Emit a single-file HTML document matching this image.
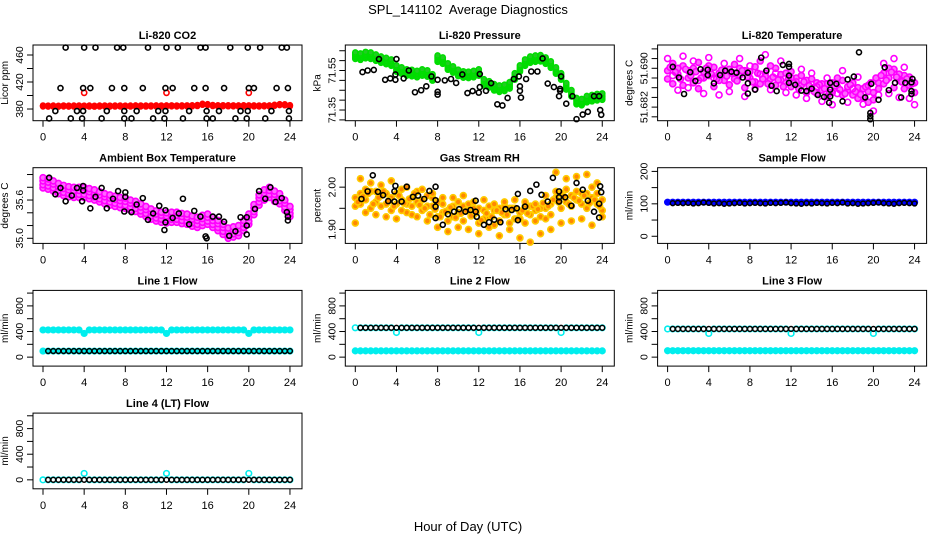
<!DOCTYPE html>
<html><head><meta charset="utf-8">
<style>
html,body{margin:0;padding:0;background:#fff;}
svg{display:block;font-family:"Liberation Sans",Arial,sans-serif;}
</style></head>
<body>
<svg id="chart" width="936" height="540" viewBox="0 0 936 540" xmlns="http://www.w3.org/2000/svg">
<rect x="0" y="0" width="936" height="540" fill="#fff"/>
<text x="468" y="14" text-anchor="middle" font-size="13">SPL_141102&#160; Average Diagnostics</text>
<text x="468" y="531" text-anchor="middle" font-size="13">Hour of Day (UTC)</text>
</svg>
<script>
// ---- shared time axis (half-hour steps) ----
const HH = [0,0.5,1,1.5,2,2.5,3,3.5,4,4.5,5,5.5,6,6.5,7,7.5,8,8.5,9,9.5,10,10.5,11,11.5,12,12.5,13,13.5,14,14.5,15,15.5,16,16.5,17,17.5,18,18.5,19,19.5,20,20.5,21,21.5,22,22.5,23,23.5,24];
const HQ = [0.25,0.75,1.25,1.75,2.25,2.75,3.25,3.75,4.25,4.75,5.25,5.75,6.25,6.75,7.25,7.75,8.25,8.75,9.25,9.75,10.25,10.75,11.25,11.75,12.25,12.75,13.25,13.75,14.25,14.75,15.25,15.75,16.25,16.75,17.25,17.75,18.25,18.75,19.25,19.75,20.25,20.75,21.25,21.75,22.25,22.75,23.25,23.75];
const xTicks = [0,4,8,12,16,20,24];

// ---- Li-820 CO2 ----
const co2TopH = [2.2,4.0,5.1,7.2,7.8,10.2,12.0,13.1,15.3,15.8,18.2,19.9,21.1,23.2,23.7];
const co2TopV = [471,471,471,471,471,471,471,471,471,471,471,471,471,471,471];
const co2MidH = [1.7,3.9,4.6,6.7,7.9,9.7,11.9,12.6,14.7,15.8,17.6,20.0,20.5,22.7,23.8];
const co2MidV = [411,411,411,411,411,411,411,411,411,411,411,411,411,411,411];
const co2LowH = [1.2,3.3,3.9,6.2,7.9,9.1,11.2,11.9,14.2,15.9,17.1,19.2,19.9,22.2,23.9];
const co2LowV = [377,377,377,377,377,377,377,377,377,377,377,377,377,377,377];
const co2BotH = [0.6,2.7,3.8,5.7,7.9,8.6,10.7,11.8,13.6,15.9,16.5,18.7,19.8,21.6,23.9];
const co2BotV = [366,366,366,366,366,366,366,366,366,366,366,366,366,366,366];
const co2Red = [384.5,384.3,384.4,384.2,384.5,384.3,384.4,384.5,384.3,384.4,384.2,384.4,384.5,384.3,384.4,384.5,384.3,384.4,384.6,384.5,384.4,384.5,384.6,384.5,384.6,384.7,384.5,384.6,384.7,384.8,385.2,387.0,386.5,385.2,384.8,384.9,384.8,384.7,384.6,384.8,384.7,384.6,384.5,384.7,384.6,385.5,386.5,386.3,385.0];
const co2CalH = [4,12,20];
const co2CalV = [404,404,404];

// ---- Li-820 Pressure ----
const presGreen = [71.625,71.620,71.628,71.625,71.615,71.605,71.598,71.590,71.560,71.550,71.540,71.537,71.532,71.540,71.535,71.515,71.610,71.600,71.570,71.555,71.538,71.530,71.528,71.532,71.540,71.490,71.480,71.465,71.458,71.462,71.475,71.520,71.560,71.590,71.605,71.610,71.612,71.600,71.580,71.550,71.520,71.470,71.435,71.395,71.390,71.405,71.410,71.415,71.418];
const presBlkH = [0.7,1.2,1.8,2.3,2.9,3.4,3.9,4.0,3.9,4.7,5.2,5.8,6.4,6.9,7.4,8.0,8.0,8.0,8.7,9.3,9.8,10.4,10.9,11.4,12.0,12.1,12.1,12.7,13.2,13.8,14.3,14.8,15.4,15.9,16.0,16.0,16.1,16.6,17.1,17.7,18.2,18.7,19.3,19.8,19.9,19.9,20.0,20.5,21.1,21.5,22.1,22.6,23.2,23.7,23.8,23.9];
const presBlkV = [71.542,71.550,71.553,71.608,71.503,71.510,71.503,71.608,71.530,71.510,71.550,71.440,71.450,71.470,71.520,71.442,71.428,71.503,71.500,71.507,71.487,71.530,71.436,71.446,71.438,71.466,71.532,71.447,71.486,71.379,71.373,71.411,71.507,71.520,71.470,71.447,71.413,71.507,71.545,71.545,71.611,71.484,71.466,71.420,71.447,71.457,71.520,71.382,71.420,71.304,71.327,71.341,71.420,71.420,71.350,71.326];

// ---- Li-820 Temperature ----
const tempA = [51.6895,51.6910,51.6888,51.6905,51.6880,51.6900,51.6912,51.6893,51.6885,51.6902,51.6890,51.6875,51.6898,51.6908,51.6886,51.6895,51.6880,51.6903,51.6915,51.6890,51.6878,51.6900,51.6887,51.6870,51.6893,51.6880,51.6865,51.6875,51.6860,51.6870,51.6855,51.6868,51.6850,51.6862,51.6875,51.6855,51.6845,51.6860,51.6840,51.6852,51.6835,51.6870,51.6890,51.6880,51.6898,51.6875,51.6885,51.6865,51.6870];
const tempB = [51.6878,51.6868,51.6900,51.6865,51.6895,51.6870,51.6858,51.6880,51.6905,51.6862,51.6875,51.6895,51.6866,51.6878,51.6900,51.6860,51.6893,51.6872,51.6868,51.6883,51.6905,51.6865,51.6876,51.6890,51.6862,51.6872,51.6885,51.6850,51.6878,51.6848,51.6868,51.6842,51.6870,51.6880,51.6845,51.6862,51.6870,51.6838,51.6858,51.6830,51.6850,51.6858,51.6868,51.6900,51.6860,51.6888,51.6858,51.6882,51.6850];
const tempC = [51.6920,51.6885,51.6855,51.6925,51.6860,51.6915,51.6875,51.6848,51.6922,51.6880,51.6845,51.6910,51.6852,51.6890,51.6920,51.6842,51.6905,51.6858,51.6888,51.6928,51.6856,51.6890,51.6915,51.6850,51.6880,51.6845,51.6898,51.6838,51.6890,51.6862,51.6832,51.6880,51.6825,51.6848,51.6895,51.6830,51.6858,51.6882,51.6826,51.6865,51.6812,51.6845,51.6910,51.6848,51.6920,51.6840,51.6902,51.6838,51.6825];
const tempD = [51.6902,51.6892,51.6878,51.6898,51.6885,51.6893,51.6880,51.6900,51.6888,51.6878,51.6896,51.6884,51.6890,51.6874,51.6895,51.6882,51.6872,51.6890,51.6878,51.6868,51.6882,51.6876,51.6862,51.6880,51.6870,51.6858,51.6872,51.6864,51.6852,51.6866,51.6858,51.6850,51.6864,51.6856,51.6848,51.6866,51.6852,51.6846,51.6862,51.6870,51.6880,51.6885,51.6875,51.6892,51.6882,51.6872,51.6878,51.6868];
const tempBlkH = [0.5,1.1,1.6,2.2,2.7,3.2,3.9,3.9,4.5,5.1,5.6,6.2,6.7,7.3,7.8,7.8,7.8,8.5,9.1,9.6,10.1,10.6,11.2,11.8,11.8,11.8,11.8,12.4,13.0,13.5,14.0,14.6,15.2,15.8,15.8,15.8,15.7,16.4,17.0,17.5,18.1,18.6,19.2,19.8,19.7,19.7,19.7,20.5,21.1,21.5,22.1,22.7,23.1,23.7,23.8,23.7,23.7];
const tempBlkV = [51.6903,51.6881,51.6847,51.6892,51.6874,51.6898,51.6897,51.6886,51.6869,51.6886,51.6895,51.6893,51.6891,51.6881,51.6891,51.6869,51.6848,51.6856,51.6922,51.6895,51.6864,51.6853,51.6907,51.6909,51.6903,51.6885,51.6870,51.6866,51.6854,51.6853,51.6858,51.6845,51.6841,51.6870,51.6856,51.6842,51.6829,51.6868,51.6832,51.6877,51.6883,51.6933,51.6840,51.6868,51.6808,51.6801,51.6795,51.6835,51.6902,51.6855,51.6870,51.6840,51.6870,51.6871,51.6878,51.6853,51.6847];

// ---- Ambient Box Temperature ----
const ambMag = [35.87,35.85,35.82,35.78,35.75,35.73,35.72,35.72,35.72,35.70,35.68,35.65,35.62,35.60,35.58,35.56,35.55,35.52,35.50,35.46,35.42,35.38,35.35,35.33,35.32,35.33,35.33,35.31,35.30,35.27,35.25,35.28,35.30,35.25,35.20,35.14,35.08,35.10,35.12,35.20,35.30,35.45,35.60,35.68,35.72,35.66,35.62,35.52,35.42];
const ambBlkH = [0.6,1.2,1.7,2.2,2.8,3.3,3.9,3.9,3.8,4.6,5.1,5.7,6.2,6.8,7.3,7.9,8.0,8.0,8.6,9.1,9.7,10.2,10.7,11.3,11.9,11.9,11.8,12.6,13.2,13.6,14.2,14.7,15.3,15.8,15.9,16.5,17.1,17.6,18.1,18.7,19.2,19.8,19.8,19.8,20.6,21.0,21.6,22.1,22.6,23.2,23.7,23.8,23.8];
const ambBlkV = [35.95,35.69,35.79,35.58,35.67,35.79,35.82,35.75,35.58,35.47,35.65,35.79,35.47,35.62,35.74,35.42,35.72,35.65,35.41,35.53,35.63,35.29,35.39,35.51,35.44,35.25,35.13,35.32,35.39,35.62,35.22,35.43,35.34,35.03,35.00,35.34,35.34,35.26,35.04,35.11,35.33,35.33,35.20,35.06,35.46,35.74,35.62,35.80,35.57,35.63,35.41,35.28,35.34];

// ---- Gas Stream RH ----
const rhA = [1.975,1.985,1.97,1.99,1.965,1.98,1.96,1.975,1.985,1.97,1.96,1.975,1.965,1.97,1.98,1.955,1.965,1.94,1.945,1.93,1.94,1.955,1.945,1.935,1.95,1.925,1.93,1.945,1.92,1.935,1.95,1.925,1.94,1.955,1.935,1.945,1.93,1.95,1.96,1.975,1.985,1.965,1.98,1.97,1.96,1.985,1.975,1.96,1.97];
const rhB = [1.955,1.96,1.995,1.95,1.99,1.955,1.985,1.945,1.96,1.995,1.94,1.955,1.99,1.945,1.955,1.975,1.93,1.96,1.92,1.955,1.965,1.92,1.96,1.95,1.915,1.945,1.955,1.91,1.95,1.955,1.915,1.95,1.925,1.915,1.955,1.92,1.95,1.925,1.935,1.99,1.95,1.995,1.955,1.99,1.985,1.95,2.0,1.985,1.945];
const rhC = [1.915,2.02,1.94,2.01,1.935,2.005,1.93,2.015,1.925,1.945,2.0,1.935,1.93,1.995,1.92,1.985,1.905,1.975,1.895,1.975,1.905,1.98,1.9,1.965,1.89,1.97,1.905,1.96,1.885,1.965,1.9,1.97,1.88,1.965,1.87,1.96,1.89,1.98,1.9,2.035,1.915,2.02,1.92,2.025,1.925,2.03,1.91,2.01,1.93];
const rhD = [1.965,1.978,1.985,1.96,1.975,1.99,1.968,1.955,1.98,1.962,1.972,1.985,1.958,1.95,1.935,1.948,1.93,1.942,1.952,1.928,1.938,1.945,1.932,1.94,1.922,1.938,1.93,1.945,1.94,1.935,1.95,1.925,1.945,1.938,1.955,1.948,1.962,1.955,1.97,1.965,1.978,1.96,1.975,1.968,1.98,1.962,1.97,1.955];
const rhBlkH = [0.6,1.2,1.7,2.2,2.7,3.2,3.8,3.9,3.8,4.5,5.0,5.6,6.1,6.7,7.2,7.8,7.8,7.8,7.8,8.5,9.0,9.6,10.1,10.7,11.2,11.7,11.7,11.8,12.5,13.0,13.5,14.1,14.6,15.2,15.7,15.8,15.8,16.5,17.0,17.6,18.1,18.7,19.2,19.8,19.8,19.8,20.4,21.0,21.5,22.1,22.6,23.2,23.7,23.7,23.8,23.9];
const rhBlkV = [1.972,1.990,2.028,1.989,1.981,1.967,1.990,2.003,1.966,1.966,2.001,1.977,1.980,1.972,1.991,2.001,1.969,1.954,1.927,1.911,1.936,1.942,1.948,1.942,1.946,1.968,1.942,1.930,1.911,1.917,1.923,1.917,1.948,1.946,1.950,1.922,1.984,1.954,1.991,2.006,1.982,1.966,2.022,1.966,1.990,1.976,1.976,1.956,2.010,1.994,1.968,1.942,1.928,1.961,2.002,1.988];

// ---- Sample Flow ----
const sfBlue = [105,105,105,105,105,105,105,105,105,105,105,105,105,105,105,105,105,105,105,105,105,105,105,105,105,105,105,105,105,105,105,105,105,105,105,105,105,105,105,105,105,105,105,105,105,105,105,105,105];
const sfBlack = [103,102,103,102,103,101,102,104,103,101,102,100,101,102,103,101,102,103,102,101,103,102,103,104,102,101,100,102,101,103,102,101,103,102,104,101,102,100,101,102,103,104,102,101,100,102,103,102,101];

// ---- Line 1..4 Flow ----
const l1Cyan = [425,425,425,425,425,425,425,425,370,425,425,425,425,425,425,425,425,425,425,425,425,425,425,425,370,425,425,425,425,425,425,425,425,425,425,425,425,425,425,425,370,425,425,425,425,425,425,425,425];
const l1Black = [95,95,95,95,95,95,95,95,95,95,95,95,95,95,95,95,95,95,95,95,95,95,95,95,95,95,95,95,95,95,95,95,95,95,95,95,95,95,95,95,95,95,95,95,95,95,95,95,95];
const l2CyanHi = [458,458,458,458,458,458,458,458,385,458,458,458,458,458,458,458,458,458,458,458,458,458,458,458,385,458,458,458,458,458,458,458,458,458,458,458,458,458,458,458,385,458,458,458,458,458,458,458,458];
const l2CyanLo = [98,98,98,98,98,98,98,98,98,98,98,98,98,98,98,98,98,98,98,98,98,98,98,98,98,98,98,98,98,98,98,98,98,98,98,98,98,98,98,98,98,98,98,98,98,98,98,98,98];
const l2Black = [458,458,458,458,458,458,458,458,458,458,458,458,458,458,458,458,458,458,458,458,458,458,458,458,458,458,458,458,458,458,458,458,458,458,458,458,458,458,458,458,458,458,458,458,458,458,458,458,458];
const l3CyanHi = [440,440,440,440,440,440,440,440,370,440,440,440,440,440,440,440,440,440,440,440,440,440,440,440,370,440,440,440,440,440,440,440,440,440,440,440,440,440,440,440,370,440,440,440,440,440,440,440,440];
const l3CyanLo = [100,100,100,100,100,100,100,100,100,100,100,100,100,100,100,100,100,100,100,100,100,100,100,100,100,100,100,100,100,100,100,100,100,100,100,100,100,100,100,100,100,100,100,100,100,100,100,100,100];
const l3Black = [440,440,440,440,440,440,440,440,440,440,440,440,440,440,440,440,440,440,440,440,440,440,440,440,440,440,440,440,440,440,440,440,440,440,440,440,440,440,440,440,440,440,440,440,440,440,440,440,440];
const l4Cyan = [0,0,0,0,0,0,0,0,100,0,0,0,0,0,0,0,0,0,0,0,0,0,0,0,100,0,0,0,0,0,0,0,0,0,0,0,0,0,0,0,100,0,0,0,0,0,0,0,0];
const l4Black = [0,0,0,0,0,0,0,0,0,0,0,0,0,0,0,0,0,0,0,0,0,0,0,0,0,0,0,0,0,0,0,0,0,0,0,0,0,0,0,0,0,0,0,0,0,0,0,0,0];

// ---- axis settings ----
const co2Ticks = [380,400,420,440,460];
const co2Labels = ['380','420','460'];
const presTicks = [71.30,71.35,71.40,71.45,71.50,71.55,71.60,71.65];
const presLabels = ['71.35','71.55'];
const tempTicks = [51.680,51.682,51.684,51.686,51.688,51.690,51.692,51.694];
const tempLabels = ['51.682','51.690'];
const ambTicks = [35.0,35.2,35.4,35.6,35.8,36.0];
const ambLabels = ['35.0','35.6'];
const rhTicks = [1.90,1.95,2.00];
const rhLabels = ['1.90','2.00'];
const sfTicks = [0,50,100,150,200];
const sfLabels = ['0','100','200'];
const flTicks = [0,200,400,600,800,1000];
const flLabels = ['0','400','800'];

const NS = 'http://www.w3.org/2000/svg';
const svg = document.getElementById('chart');
const COLX0 = [43, 355.3, 667.6];
const ROWTOP = [45, 167.7, 290.4, 413.1];
const BOXH = 75.7, PXH = 10.29;

function makePanel(col, row, ymin, ymax, title, ylab, ticks, labels, name) {
  const g = document.createElementNS(NS, 'g');
  
  
  svg.appendChild(g);
  const x0 = COLX0[col], top = ROWTOP[row], bot = top + BOXH;
  const left = x0 - 10, right = x0 + 259;
  const P = {
    g: g,
    x: function (h) { return x0 + h * PXH; },
    y: function (v) { return bot - (v - ymin) / (ymax - ymin) * BOXH; }
  };
  const box = document.createElementNS(NS, 'rect');
  
  
  box.setAttribute('x', left); box.setAttribute('y', top);
  box.setAttribute('width', right - left); box.setAttribute('height', BOXH);
  box.setAttribute('fill', 'none'); box.setAttribute('stroke', '#000'); box.setAttribute('stroke-width', '1');
  g.appendChild(box);
  const t = document.createElementNS(NS, 'text');
  
  
  t.setAttribute('x', (left + right) / 2); t.setAttribute('y', top - 6);
  t.setAttribute('text-anchor', 'middle'); t.setAttribute('font-size', '11'); t.setAttribute('font-weight', 'bold');
  t.textContent = title;
  g.appendChild(t);
  for (let i = 0; i < xTicks.length; i++) {
    const h = xTicks[i];
    const l = document.createElementNS(NS, 'line');
    
    
    l.setAttribute('x1', P.x(h)); l.setAttribute('x2', P.x(h));
    l.setAttribute('y1', bot); l.setAttribute('y2', bot + 6);
    l.setAttribute('stroke', '#000');
    g.appendChild(l);
    const tx = document.createElementNS(NS, 'text');
    
    
    tx.setAttribute('x', P.x(h)); tx.setAttribute('y', bot + 20);
    tx.setAttribute('text-anchor', 'middle'); tx.setAttribute('font-size', '11');
    tx.textContent = String(h);
    g.appendChild(tx);
  }
  for (let i = 0; i < ticks.length; i++) {
    const yy = P.y(ticks[i]);
    if (yy < top - 0.5 || yy > bot + 0.5) continue;
    const l = document.createElementNS(NS, 'line');
    
    
    l.setAttribute('x1', left - 6); l.setAttribute('x2', left);
    l.setAttribute('y1', yy); l.setAttribute('y2', yy);
    l.setAttribute('stroke', '#000');
    g.appendChild(l);
  }
  for (let i = 0; i < labels.length; i++) {
    const yy = P.y(parseFloat(labels[i]));
    const tx = document.createElementNS(NS, 'text');
    
    
    tx.setAttribute('x', left - 10); tx.setAttribute('y', yy);
    tx.setAttribute('text-anchor', 'middle'); tx.setAttribute('font-size', '10.5');
    tx.setAttribute('transform', 'rotate(-90 ' + (left - 10) + ' ' + yy + ')');
    tx.textContent = labels[i];
    g.appendChild(tx);
  }
  const yl = document.createElementNS(NS, 'text');
  
  
  const ly = top + BOXH / 2;
  yl.setAttribute('x', left - 25); yl.setAttribute('y', ly);
  yl.setAttribute('text-anchor', 'middle'); yl.setAttribute('font-size', '10');
  yl.setAttribute('transform', 'rotate(-90 ' + (left - 25) + ' ' + ly + ')');
  yl.textContent = ylab;
  g.appendChild(yl);
  return P;
}

function dot(P, h, v, color, r, sw, fill) {
  const cx = P.x(h), cy = P.y(v);
  if (!isFinite(cx) || !isFinite(cy)) return;
  const c = document.createElementNS(NS, 'circle');
  
  
  c.setAttribute('cx', cx.toFixed(2)); c.setAttribute('cy', cy.toFixed(2));
  c.setAttribute('r', r); c.setAttribute('fill', fill || 'none');
  c.setAttribute('stroke', color); c.setAttribute('stroke-width', sw);
  P.g.appendChild(c);
}
function series(P, hs, vs, color, r, sw, fill) {
  const n = Math.min(hs.length, vs.length);
  for (let i = 0; i < n; i++) dot(P, hs[i], vs[i], color, r, sw, fill);
}
function band(P, hs, vs, offs, color, r, sw, fill) {
  const n = Math.min(hs.length, vs.length);
  for (let i = 0; i < n; i++) for (let k = 0; k < offs.length; k++) dot(P, hs[i], vs[i] + offs[k], color, r, sw, fill);
}
const BLK = '#000';

function safe(fn) { try { fn(); } catch (e) {} }

safe(function () {
  const P = makePanel(0, 0, 362.7, 474.8, 'Li-820 CO2', 'Licor ppm', co2Ticks, co2Labels, 'panel-co2');
  band(P, HH, co2Red, [-0.8, 0, 0.8], '#ff0000', 2.4, 1.6, '#ff0000');
  series(P, co2CalH, co2CalV, '#ff0000', 2.6, 1.6);
  series(P, co2TopH, co2TopV, BLK, 2.5, 1.6);
  series(P, co2MidH, co2MidV, BLK, 2.5, 1.6);
  series(P, co2LowH, co2LowV, BLK, 2.5, 1.6);
  series(P, co2BotH, co2BotV, BLK, 2.5, 1.6);
});

safe(function () {
  const P = makePanel(1, 0, 71.296, 71.679, 'Li-820 Pressure', 'kPa', presTicks, presLabels, 'panel-pressure');
  band(P, HH, presGreen, [-0.016, -0.008, 0, 0.008, 0.016], '#00dd00', 2.6, 1.5, '#22cc22');
  series(P, presBlkH, presBlkV, BLK, 2.5, 1.6);
});

safe(function () {
  const P = makePanel(2, 0, 51.6792, 51.6948, 'Li-820 Temperature', 'degrees C', tempTicks, tempLabels, 'panel-temperature');
  series(P, HH, tempA, '#ff00ff', 3, 1.6, '#ff66ff');
  series(P, HH, tempB, '#ff00ff', 3, 1.6, '#ff66ff');
  series(P, HQ, tempD, '#ff00ff', 3, 1.6, '#ff66ff');
  series(P, HH, tempC, '#ff00ff', 3, 1.6);
  series(P, tempBlkH, tempBlkV, BLK, 2.5, 1.6);
});

safe(function () {
  const P = makePanel(0, 1, 34.92, 36.107, 'Ambient Box Temperature', 'degrees C', ambTicks, ambLabels, 'panel-ambient');
  band(P, HH, ambMag, [-0.08, -0.03, 0.03, 0.08], '#ff00ff', 3, 1.6, '#ff66ff');
  series(P, ambBlkH, ambBlkV, BLK, 2.5, 1.6);
});

safe(function () {
  const P = makePanel(1, 1, 1.867, 2.046, 'Gas Stream RH', 'percent', rhTicks, rhLabels, 'panel-rh');
  series(P, HH, rhA, '#ffcc00', 3, 1.6, '#ff8800');
  series(P, HH, rhB, '#ffcc00', 3, 1.6, '#ff8800');
  series(P, HQ, rhD, '#ffcc00', 3, 1.6, '#ff8800');
  series(P, HH, rhC, '#ffcc00', 3, 1.6, '#ff8800');
  series(P, rhBlkH, rhBlkV, BLK, 2.5, 1.6);
});

safe(function () {
  const P = makePanel(2, 1, -22, 211.4, 'Sample Flow', 'ml/min', sfTicks, sfLabels, 'panel-sample-flow');
  series(P, HH, sfBlue, '#0000ff', 2.8, 1.6, '#0000ff');
  series(P, HH.slice(1), sfBlack.slice(1), BLK, 2.4, 1.5);
});

safe(function () {
  const P = makePanel(0, 2, -140, 1042, 'Line 1 Flow', 'ml/min', flTicks, flLabels, 'panel-line1-flow');
  series(P, HH, l1Cyan, '#00eeee', 2.8, 1.6, '#00eeee');
  series(P, HH, l1Black, '#00eeee', 2.8, 1.6, '#00eeee');
  series(P, HH.slice(1), l1Black.slice(1), BLK, 2.4, 1.5);
});

safe(function () {
  const P = makePanel(1, 2, -140, 1042, 'Line 2 Flow', 'ml/min', flTicks, flLabels, 'panel-line2-flow');
  series(P, HH, l2CyanLo, '#00eeee', 2.8, 1.6, '#00eeee');
  series(P, HH, l2CyanHi, '#00eeee', 2.8, 1.6);
  series(P, HH.slice(1), l2Black.slice(1), BLK, 2.4, 1.5);
});

safe(function () {
  const P = makePanel(2, 2, -140, 1042, 'Line 3 Flow', 'ml/min', flTicks, flLabels, 'panel-line3-flow');
  series(P, HH, l3CyanLo, '#00eeee', 2.8, 1.6, '#00eeee');
  series(P, HH, l3CyanHi, '#00eeee', 2.8, 1.6);
  series(P, HH.slice(1), l3Black.slice(1), BLK, 2.4, 1.5);
});

safe(function () {
  const P = makePanel(0, 3, -140, 1042, 'Line 4 (LT) Flow', 'ml/min', flTicks, flLabels, 'panel-line4-flow');
  series(P, HH, l4Cyan, '#00eeee', 2.8, 1.6);
  series(P, HH.slice(1), l4Black.slice(1), BLK, 2.4, 1.5);
});
</script>
</body></html>
